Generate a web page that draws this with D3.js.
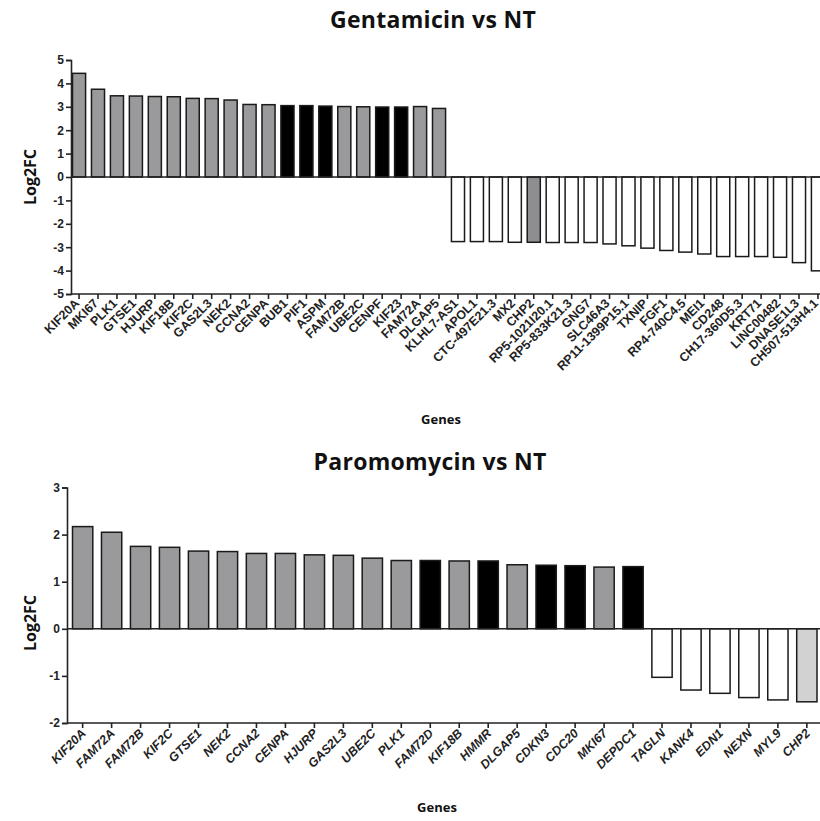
<!DOCTYPE html>
<html>
<head>
<meta charset="utf-8">
<script src="https://cdn.jsdelivr.net/npm/d3@7"></script>
<style>
  body { margin: 0; background: #fff; }
  svg { display: block; }
  .tick text { font-family: 'Liberation Sans', Arial, sans-serif; font-weight: bold; fill: #222; }
</style>
</head>
<body>
<svg class="chart" width="820" height="821"></svg>
<script>
// Gentamicin vs NT
const gentGenes = ['KIF20A','MKI67','PLK1','GTSE1','HJURP','KIF18B','KIF2C','GAS2L3','NEK2','CCNA2',
  'CENPA','BUB1','PIF1','ASPM','FAM72B','UBE2C','CENPF','KIF23','FAM72A','DLGAP5',
  'KLHL7-AS1','APOL1','CTC-497E21.3','MX2','CHP2','RP5-1021I20.1','RP5-833K21.3','GNG7','SLC46A3','RP11-1399P15.1',
  'TXNIP','FGF1','RP4-740C4.5','MEI1','CD248','CH17-360D5.3','KRT71','LINC00482','DNASE1L3','CH507-513H4.1'];
const gentValues = [4.43, 3.75, 3.47, 3.46, 3.44, 3.43, 3.36, 3.35, 3.29, 3.10,
  3.09, 3.05, 3.05, 3.03, 3.01, 3.00, 2.99, 2.99, 3.01, 2.93,
  -2.76, -2.76, -2.76, -2.79, -2.79, -2.80, -2.80, -2.80, -2.86, -2.94,
  -3.04, -3.14, -3.21, -3.29, -3.40, -3.40, -3.40, -3.43, -3.66, -4.01];
const gentGroups = ['up','up','up','up','up','up','up','up','up','up',
  'up','shared','shared','shared','up','up','shared','shared','up','up',
  'down','down','down','down','common','down','down','down','down','down',
  'down','down','down','down','down','down','down','down','down','down'];
const gentTicks = [-5, -4, -3, -2, -1, 0, 1, 2, 3, 4, 5];

// Paromomycin vs NT
const paroGenes = ['KIF20A','FAM72A','FAM72B','KIF2C','GTSE1','NEK2','CCNA2','CENPA','HJURP','GAS2L3',
  'UBE2C','PLK1','FAM72D','KIF18B','HMMR','DLGAP5','CDKN3','CDC20','MKI67','DEPDC1',
  'TAGLN','KANK4','EDN1','NEXN','MYL9','CHP2'];
const paroValues = [2.17, 2.05, 1.75, 1.73, 1.65, 1.64, 1.60, 1.60, 1.57, 1.56,
  1.50, 1.45, 1.45, 1.44, 1.44, 1.36, 1.35, 1.34, 1.31, 1.32,
  -1.03, -1.30, -1.37, -1.46, -1.51, -1.55];
const paroGroups = ['up','up','up','up','up','up','up','up','up','up',
  'up','up','shared','up','shared','up','shared','shared','up','shared',
  'down','down','down','down','down','commonLight'];
const paroTicks = [-2, -1, 0, 1, 2, 3];

const scaleColor = d3.scaleOrdinal()
  .domain(['up', 'shared', 'down', 'common', 'commonLight'])
  .range(['#9a9a9d', '#000000', '#ffffff', '#8e8e90', '#d2d2d2']);

const svg = d3.select('svg.chart');
svg.append('rect').attr('width', 820).attr('height', 821).attr('fill', '#fff');

function drawPanel(opts){
  const g = svg.append('g');
  const data = opts.genes.map((d, i) => ({gene: d, value: opts.values[i], group: opts.groups[i]}));

  const x = d3.scaleBand()
    .domain(opts.genes)
    .range(opts.xRange)
    .paddingInner(opts.padIn)
    .paddingOuter(opts.padOut);

  const y = d3.scaleLinear()
    .domain(d3.extent(opts.ticks))
    .range(opts.yRange);

  // bars
  g.selectAll('rect.bar')
    .data(data)
    .enter()
    .append('rect')
    .attr('class', 'bar')
    .attr('x', d => x(d.gene))
    .attr('width', x.bandwidth())
    .attr('y', d => y(Math.max(0, d.value)))
    .attr('height', d => Math.abs(y(d.value) - y(0)))
    .style('fill', d => scaleColor(d.group))
    .style('stroke', '#1a1a1a')
    .style('stroke-width', 1.5);

  // zero line
  g.append('line')
    .attr('x1', opts.xRange[0]).attr('x2', 820)
    .attr('y1', y(0)).attr('y2', y(0))
    .style('stroke', '#222').style('stroke-width', 1.5);

  // y axis (hyphen minus like the original)
  const yAxis = g.append('g')
    .attr('transform', `translate(${opts.xRange[0]},0)`)
    .call(d3.axisLeft(y).tickValues(opts.ticks).tickSize(5).tickPadding(2).tickFormat(d => `${d}`));
  yAxis.selectAll('text').style('font-size', '12px');
  yAxis.selectAll('line, path').style('stroke', '#222').style('stroke-width', 1.6);

  // x axis
  const xAxis = g.append('g')
    .attr('transform', `translate(0,${opts.yRange[0]})`)
    .call(d3.axisBottom(x).tickSize(5).tickSizeOuter(0));
  xAxis.select('path.domain').attr('d', `M${opts.xRange[0]},0H820`);
  xAxis.selectAll('line, path').style('stroke', '#222').style('stroke-width', 1.6);
  xAxis.selectAll('text')
    .attr('x', 0).attr('y', 0).attr('dy', 0)
    .attr('transform', `translate(${opts.labelShift[0]},${opts.labelShift[1]}) rotate(-45)`)
    .style('text-anchor', 'end')
    .style('font-size', opts.labelSize)
    .style('font-style', opts.labelStyle);

  // titles
  g.append('text')
    .attr('x', opts.titlePos[0]).attr('y', opts.titlePos[1])
    .attr('text-anchor', 'middle')
    .style('font-family', "'Open Sans', sans-serif")
    .style('font-weight', 'bold')
    .style('font-size', '23px')
    .style('letter-spacing', '0.3px')
    .style('fill', '#111')
    .text(opts.title);

  g.append('text')
    .attr('transform', `translate(${opts.yTitlePos[0]},${opts.yTitlePos[1]}) rotate(-90)`)
    .attr('text-anchor', 'middle')
    .style('font-family', "'Open Sans', sans-serif")
    .style('font-weight', 'bold')
    .style('font-size', '16px')
    .style('fill', '#111')
    .text('Log2FC');

  g.append('text')
    .attr('x', opts.xTitlePos[0]).attr('y', opts.xTitlePos[1])
    .attr('text-anchor', 'middle')
    .style('font-family', "'Open Sans', sans-serif")
    .style('font-weight', 'bold')
    .style('font-size', '13px')
    .style('fill', '#111')
    .text('Genes');
}

drawPanel({
  genes: gentGenes, values: gentValues, groups: gentGroups, ticks: gentTicks,
  xRange: [71, 826], padIn: 0.31, padOut: 0.08,
  yRange: [294, 60],
  labelShift: [1, 10], labelSize: '12.5px', labelStyle: 'normal',
  title: 'Gentamicin vs NT', titlePos: [433, 28],
  yTitlePos: [36, 177], xTitlePos: [441, 424]
});

drawPanel({
  genes: paroGenes, values: paroValues, groups: paroGroups, ticks: paroTicks,
  xRange: [67, 822.5], padIn: 0.3, padOut: 0.19,
  yRange: [723, 487.5],
  labelShift: [4, 11], labelSize: '12.5px', labelStyle: 'italic',
  title: 'Paromomycin vs NT', titlePos: [430, 470],
  yTitlePos: [36, 623], xTitlePos: [437, 812]
});
</script>
</body>
</html>
